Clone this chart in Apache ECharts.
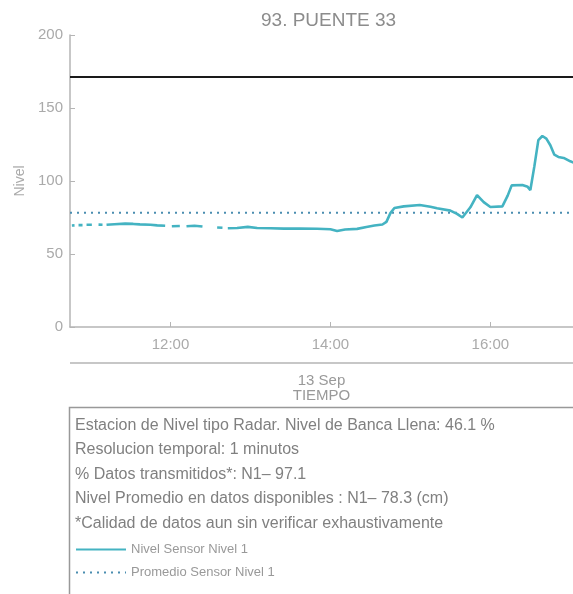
<!DOCTYPE html>
<html>
<head>
<meta charset="utf-8">
<script src="https://cdn.jsdelivr.net/npm/echarts@6/dist/echarts.min.js"></script>
<style>html,body{margin:0;padding:0;background:#fff;}#c{width:573px;height:594px;}</style>
</head>
<body>
<div id="c"></div>
<script>
// ---- data ----
const times = ["10:46","10:48","10:49","10:51","10:54","10:55","10:57","11:01","11:03","11:06","11:09","11:10",
  "11:12","11:18","11:26","11:32","11:37","11:45","11:50","11:56","11:58",
  "12:01","12:07","12:09","12:12","12:18","12:24","12:30","12:35","12:39","12:41",
  "12:43","12:50","12:58","13:05","13:15","13:25","13:37","13:50","14:00","14:05","14:11","14:20","14:27","14:33","14:39",
  "14:42","14:45","14:48","14:55","15:07","15:15","15:20","15:30","15:35","15:39","15:45","15:50","15:55","16:00",
  "16:09","16:13","16:16","16:24","16:28","16:30","16:33","16:36","16:39","16:42","16:45","16:48","16:51","16:55","17:00","17:03"];
const nivel = [69.5,69.6,null,69.8,69.8,null,70.0,70.0,null,70.1,70.0,null,
  70.0,70.4,70.8,70.6,70.3,70.0,69.6,69.3,null,
  69.0,69.2,null,69.0,69.4,68.8,null,68.2,68.0,null,
  67.6,67.8,68.6,67.8,67.6,67.4,67.5,67.3,67.0,65.8,66.8,67.2,68.5,69.5,70.2,
  72,78,81.5,82.6,83.6,82.4,81.3,79.7,77.5,75.0,82,90.4,85.5,82.2,
  82.6,90,97,97.3,96,93.8,110,128,130.8,129,124.5,118,116.5,115.8,113.5,112.5];
const promedio = 78.3;
const bancaLlena = 171.2;
const xRange = ["10:44.6","17:02"];
const xTickLabels = ["12:00","14:00","16:00"];
const yTicks = [0, 50, 100, 150, 200];
const infoLines = [
  "Estacion de Nivel tipo Radar. Nivel de Banca Llena: 46.1 %",
  "Resolucion temporal: 1 minutos",
  "% Datos transmitidos*: N1\u2013 97.1",
  "Nivel Promedio en datos disponibles : N1\u2013 78.3 (cm)",
  "*Calidad de datos aun sin verificar exhaustivamente"
];

const toMin = s => { const [h, m] = s.split(':'); return (+h) * 60 + parseFloat(m); };
const fmt = v => { const h = Math.floor(v / 60), m = Math.round(v - h * 60); return h + ':' + (m < 10 ? '0' : '') + m; };
const xMin = toMin(xRange[0]), xMax = toMin(xRange[1]);
const tickVals = xTickLabels.map(toMin);
const seriesData = times.map((t, i) => [toMin(t), nivel[i]]);

const gray = '#aaaaaa';
const FF = 'Liberation Sans';
const chart = echarts.init(document.getElementById('c'));
chart.setOption({
  animation: false,
  title: {
    text: '93. PUENTE 33', left: 256, top: 6,
    textStyle: { color: '#8c8c8c', fontSize: 19, fontWeight: 'normal', fontFamily: FF }
  },
  grid: { left: 70, top: 35, right: 0, bottom: 267, containLabel: false },
  xAxis: {
    type: 'value', min: xMin, max: xMax,
    name: '13 Sep\nTIEMPO', nameLocation: 'middle', nameGap: 46,
    nameTextStyle: { color: '#999', fontSize: 15, lineHeight: 15, fontFamily: FF },
    axisLine: { show: true, lineStyle: { color: '#b5b5b5', width: 1.5 } },
    axisTick: { show: true, inside: true, length: 5, customValues: tickVals, lineStyle: { color: '#b5b5b5' } },
    axisLabel: { customValues: tickVals, formatter: v => fmt(v), color: gray, fontSize: 15, margin: 10, fontFamily: FF },
    splitLine: { show: false }
  },
  yAxis: {
    type: 'value', min: 0, max: 200, interval: 50,
    name: 'Nivel', nameLocation: 'middle', nameGap: 42,
    nameTextStyle: { color: gray, fontSize: 14, fontFamily: FF },
    axisLine: { show: true, lineStyle: { color: '#b5b5b5', width: 1.5 } },
    axisTick: { show: true, inside: true, length: 5, lineStyle: { color: '#b5b5b5' } },
    axisLabel: { color: gray, fontSize: 15, margin: 7, fontFamily: FF },
    splitLine: { show: false }
  },
  legend: {
    orient: 'vertical', left: 75, top: 543, padding: 0, itemWidth: 50, itemHeight: 14, itemGap: 10,
    itemStyle: { opacity: 0 },
    textStyle: { color: '#999', fontSize: 13, fontFamily: FF },
    data: ['Nivel Sensor Nivel 1', 'Promedio Sensor Nivel 1']
  },
  series: [
    {
      name: 'Nivel Sensor Nivel 1', type: 'line', symbol: 'none', connectNulls: false,
      data: seriesData, lineStyle: { color: '#44b3c2', width: 2.6 }, itemStyle: { color: '#44b3c2' }, z: 3,
      markLine: {
        silent: true, symbol: 'none', label: { show: false },
        lineStyle: { color: '#1a1a1a', width: 2, type: 'solid' },
        data: [{ yAxis: bancaLlena }]
      }
    },
    {
      name: 'Promedio Sensor Nivel 1', type: 'line', symbol: 'none',
      data: [[xMin, promedio], [xMax, promedio]],
      lineStyle: { color: '#4a8db0', width: 2, type: [2, 5] }, itemStyle: { color: '#4a8db0' }, z: 2
    }
  ],
  graphic: [
    { type: 'line', shape: { x1: 70, y1: 363, x2: 573, y2: 363 }, style: { stroke: '#b5b5b5', lineWidth: 1.5 } },
    { type: 'rect', shape: { x: 69.5, y: 407.5, width: 600, height: 300 }, style: { fill: 'none', stroke: '#999', lineWidth: 1.5 } },
    { type: 'text', left: 75, top: 413, style: { text: infoLines.join('\n'), fill: '#808080', fontSize: 16, lineHeight: 24.5, fontFamily: FF } }
  ]
});
</script>
</body>
</html>
